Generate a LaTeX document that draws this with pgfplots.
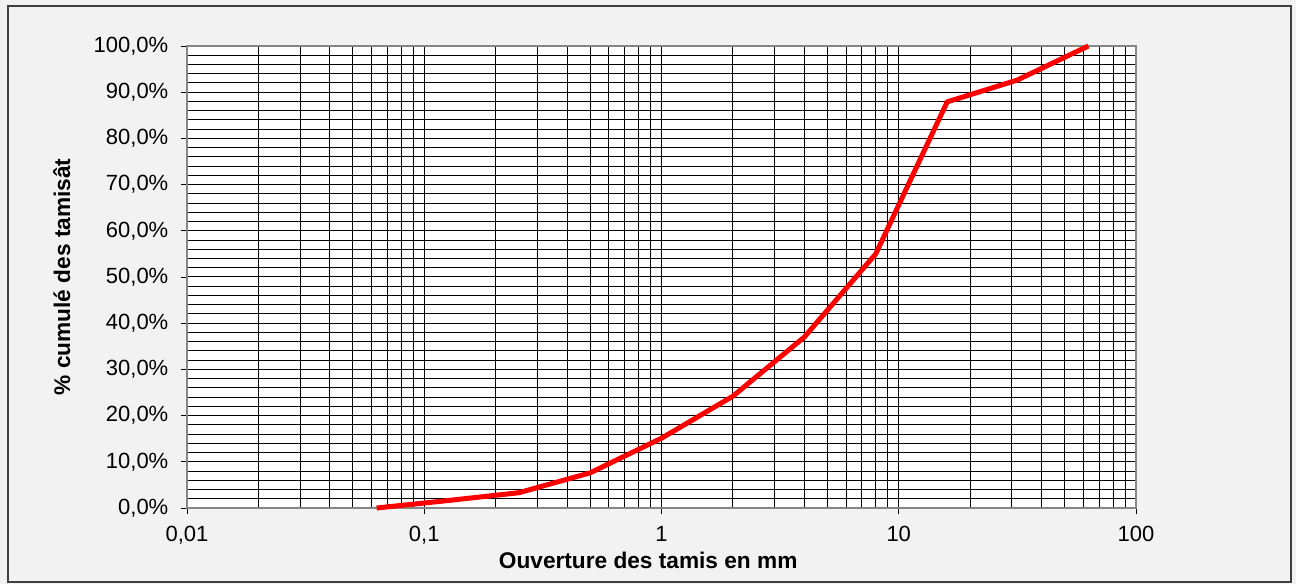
\documentclass[border=0pt]{standalone}
\usepackage{pgfplots}
\pgfplotsset{compat=1.18}
\usepackage{fontspec}
\setmainfont{Liberation Sans}
\definecolor{bgc}{HTML}{F2F2F2}
\definecolor{axgray}{HTML}{868686}
\definecolor{framec}{HTML}{404040}
\begin{document}
\begin{tikzpicture}
\path[use as bounding box, fill=bgc] (-140.25pt,-57pt) rectangle (831.75pt,381pt);
\draw[framec, line width=0.9pt] (-134.25pt,-55.5pt) rectangle (828pt,376.5pt);
\begin{axis}[
  at={(0,0)}, anchor=south west,
  scale only axis,
  width=711.75pt, height=346.5pt,
  xmode=log,
  xmin=0.01, xmax=100,
  ymin=0, ymax=100,
  axis background/.style={fill=white},
  axis line style={axgray, line width=1.5pt},
  xtick={0.01,0.1,1,10,100},
  xticklabels={{0,01},{0,1},1,10,100},
  ytick={0,10,...,100},
  yticklabels={{0,0\%},{10,0\%},{20,0\%},{30,0\%},{40,0\%},{50,0\%},{60,0\%},{70,0\%},{80,0\%},{90,0\%},{100,0\%}},
  minor ytick={2,4,...,98},
  grid=both,
  major grid style={black, line width=0.75pt},
  minor grid style={black, line width=0.75pt},
  tick align=outside,
  major tick length=4.5pt,
  minor tick length=0pt,
  tick style={black, line width=0.6pt},
  xtick pos=bottom, ytick pos=left,
  tick label style={font=\fontsize{16.5}{19}\selectfont},
  yticklabel style={anchor=east, xshift=-6pt},
  xticklabel style={anchor=north, yshift=-5.5pt},
  xlabel={\bfseries Ouverture des tamis en mm},
  ylabel={\bfseries \% cumulé des tamisât},
  label style={font=\fontsize{17}{20}\selectfont\bfseries},
  xlabel style={at={(axis description cs:0.486,-0.1126)}, anchor=center},
  ylabel style={at={(axis description cs:-0.132,0.5)}, anchor=center},
  clip=false,
]
\addplot[red, line width=3.75pt, line join=round] coordinates {
  (0.063,0)
  (0.125,1.6)
  (0.25,3.3)
  (0.5,7.6)
  (1,15.1)
  (2,24.2)
  (4,37.0)
  (8,55.0)
  (16,87.9)
  (31.5,92.6)
  (63,100)
};
\end{axis}
\end{tikzpicture}
\end{document}
